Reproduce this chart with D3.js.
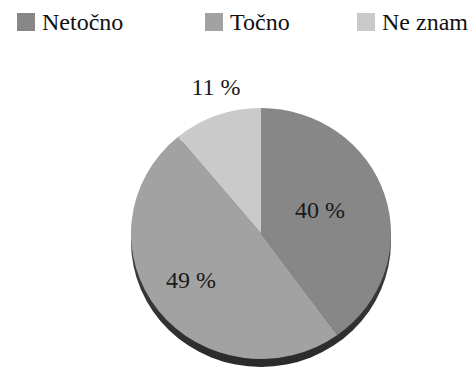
<!DOCTYPE html>
<html>
<head>
<meta charset="utf-8">
<script src="https://cdn.jsdelivr.net/npm/d3@7"></script>
<style>
  html, body { margin: 0; padding: 0; background: #fff; }
  svg { display: block; }
</style>
</head>
<body>
<svg id="chart" width="476" height="369"></svg>
<script>
// Answer shares (percent)
const categories = ["Netočno", "Točno", "Ne znam"];
const values = [40, 49, 11];
const colors = ["#878787", "#a2a2a2", "#cacaca"];

const cx = 261, cy = 233.5;
const rx = 130, ry = 125.5;
const depth = 8;
const font = "Liberation Serif";

const svg = d3.select("#chart");
const color = d3.scaleOrdinal().domain(categories).range(colors);

// Legend row
const legendX = [17, 205, 357];
const legend = svg.append("g");
categories.forEach((c, i) => {
  const g = legend.append("g").attr("transform", `translate(${legendX[i]},13)`);
  g.append("rect").attr("width", 18).attr("height", 18).attr("fill", color(c));
  g.append("text").attr("x", 25).attr("y", 16.5)
    .style("font-family", font).style("font-size", "24px").attr("fill", "#111")
    .text(c);
});

// Pie edge (thickness below the top face)
const defs = svg.append("defs");
const grad = defs.append("linearGradient").attr("id", "edge")
  .attr("x1", 0).attr("y1", 0).attr("x2", 0).attr("y2", 1);
grad.append("stop").attr("offset", "0%").attr("stop-color", "#555");
grad.append("stop").attr("offset", "100%").attr("stop-color", "#2a2a2a");

svg.append("ellipse")
  .attr("cx", cx).attr("cy", cy + depth)
  .attr("rx", rx).attr("ry", ry)
  .attr("fill", "url(#edge)");

// Top face
const pie = d3.pie().sort(null).value(d => d.v);
const arcs = pie(categories.map((c, i) => ({ c, v: values[i] })));
const arc = d3.arc().innerRadius(0).outerRadius(rx);

svg.append("g")
  .attr("transform", `translate(${cx},${cy}) scale(1,${ry / rx})`)
  .selectAll("path").data(arcs).join("path")
  .attr("d", arc)
  .attr("fill", d => color(d.data.c));

// Value labels
const labelPos = [
  { x: 320, y: 218 },
  { x: 191, y: 288 },
  { x: 216, y: 95 }
];
svg.append("g").selectAll("text").data(arcs).join("text")
  .attr("x", (d, i) => labelPos[i].x)
  .attr("y", (d, i) => labelPos[i].y)
  .attr("text-anchor", "middle")
  .style("font-family", font).style("font-size", "24px").attr("fill", "#1a1a1a")
  .text(d => `${d.data.v} %`);
</script>
</body>
</html>
